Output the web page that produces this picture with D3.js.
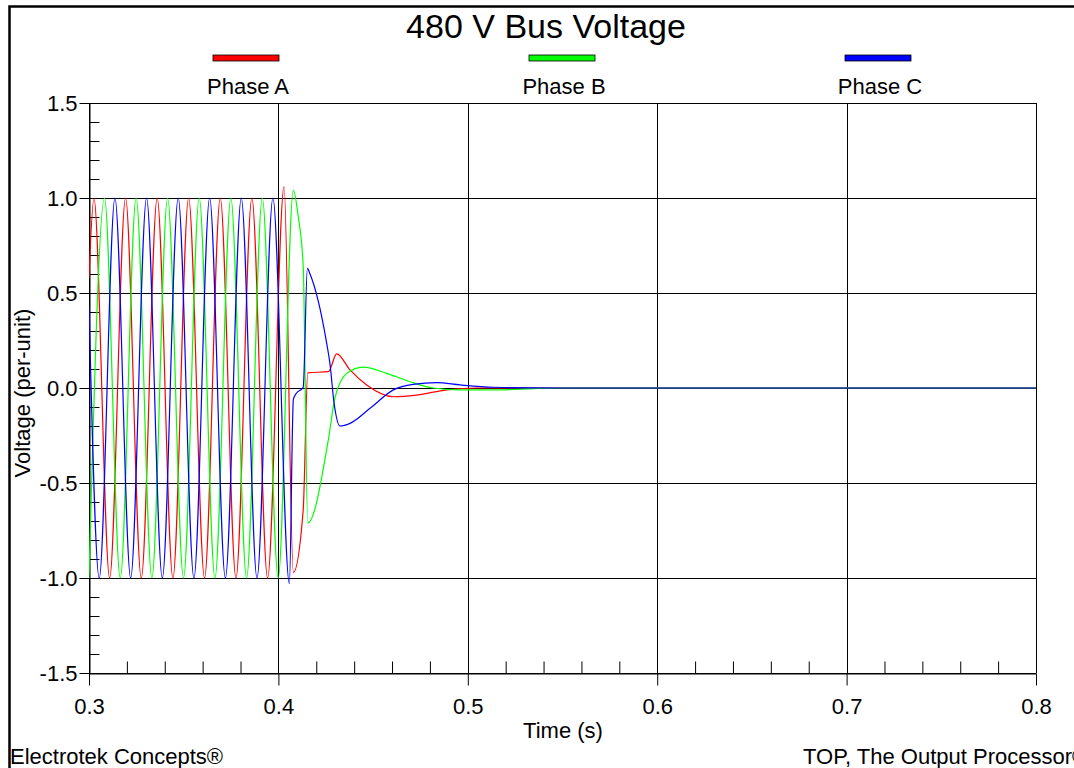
<!DOCTYPE html>
<html>
<head>
<meta charset="utf-8">
<script src="https://cdn.jsdelivr.net/npm/d3@7"></script>
<style>
  body { margin: 0; background: #fff; }
  svg { display: block; font-family: "Liberation Sans", Arial, sans-serif; }
</style>
</head>
<body>
<svg id="chart" width="1074" height="768"></svg>
<script>
const xTicks = [0.3, 0.4, 0.5, 0.6, 0.7, 0.8];
const yTicks = [-1.5, -1.0, -0.5, 0.0, 0.5, 1.0, 1.5];
const seriesNames = ["Phase A", "Phase B", "Phase C"];
const seriesColors = ["#ff0000", "#00ff00", "#0000ff"];

// [time (s), voltage (pu)]: peaks/troughs, then the transient
const phaseA = [
  [0.3000, 0.58], [0.3026, 1.0], [0.3109, -1.0], [0.3193, 1.0], [0.3276, -1.0],
  [0.3360, 1.0], [0.3443, -1.0], [0.3526, 1.0], [0.3610, -1.0], [0.3693, 1.0],
  [0.3776, -1.0], [0.3860, 1.0], [0.3943, -1.0], [0.4030, 1.06], [0.4079, -0.97],
  [0.4131, -0.64], [0.4155, 0.08], [0.4264, 0.086], [0.4308, 0.18], [0.4378, 0.095],
  [0.4466, 0.016], [0.4607, -0.046], [0.4730, -0.037], [0.4889, -0.01], [0.5047, 0.0],
  [0.5500, 0.0], [0.8000, 0.0]
];
const phaseB = [
  [0.3000, -1.0], [0.3082, 1.0], [0.3165, -1.0], [0.3249, 1.0], [0.3332, -1.0],
  [0.3415, 1.0], [0.3499, -1.0], [0.3582, 1.0], [0.3665, -1.0], [0.3749, 1.0],
  [0.3832, -1.0], [0.3915, 1.0], [0.3999, -1.0], [0.4079, 1.04], [0.4105, 0.90],
  [0.4131, 0.64], [0.4155, -0.71], [0.4264, -0.27], [0.4299, -0.05], [0.4361, 0.077],
  [0.4448, 0.11], [0.4572, 0.077], [0.4695, 0.033], [0.4818, 0.0], [0.4959, -0.01],
  [0.5133, -0.01], [0.5500, 0.0], [0.8000, 0.0]
];
const phaseC = [
  [0.3000, 0.43], [0.3054, -1.0], [0.3137, 1.0], [0.3220, -1.0], [0.3304, 1.0],
  [0.3387, -1.0], [0.3471, 1.0], [0.3554, -1.0], [0.3637, 1.0], [0.3720, -1.0],
  [0.3804, 1.0], [0.3887, -1.0], [0.3971, 1.0], [0.4058, -1.03], [0.4079, -0.06],
  [0.4093, -0.03], [0.4131, 0.004], [0.4153, 0.63], [0.4167, 0.60], [0.4255, 0.235],
  [0.4272, 0.13], [0.4294, -0.08], [0.4325, -0.20], [0.4378, -0.186], [0.4484, -0.107],
  [0.4607, -0.01], [0.4712, 0.019], [0.4836, 0.028], [0.4959, 0.016], [0.5135, 0.004],
  [0.5500, 0.0], [0.8000, 0.0]
];
const allSeries = [phaseA, phaseB, phaseC];

const svg = d3.select("#chart");
const font = 22;
const plotLeft = 89, plotRight = 1036, plotTop = 103, plotBottom = 673;

const x = d3.scaleLinear().domain([0.3, 0.8]).range([plotLeft, plotRight]);
const y = d3.scaleLinear().domain([-1.5, 1.5]).range([plotBottom, plotTop]);
const fmt = v => d3.format(".1f")(v).replace("−", "-");

// outer frame (left + top only, rest is cut off)
svg.append("path")
  .attr("d", `M9.5,768V6.5H1074`)
  .attr("fill", "none").attr("stroke", "#000").attr("stroke-width", 2.5);

// title
svg.append("text").attr("x", 546).attr("y", 38)
  .attr("text-anchor", "middle").attr("font-size", 34).text("480 V Bus Voltage");

// legend
const legendX = [246, 562, 878];
seriesNames.forEach((name, i) => {
  svg.append("rect").attr("x", legendX[i] - 33).attr("y", 55)
    .attr("width", 66).attr("height", 6)
    .attr("fill", seriesColors[i]).attr("stroke", "#000").attr("stroke-width", 0.8);
  svg.append("text").attr("x", legendX[i] + 2).attr("y", 94)
    .attr("text-anchor", "middle").attr("font-size", font).text(name);
});

// grid
const grid = svg.append("g").attr("stroke", "#000").attr("stroke-width", 1);
xTicks.forEach(t => grid.append("line")
  .attr("x1", Math.round(x(t)) + 0.5).attr("x2", Math.round(x(t)) + 0.5)
  .attr("y1", plotTop).attr("y2", plotBottom));
yTicks.forEach(t => grid.append("line")
  .attr("x1", plotLeft).attr("x2", plotRight)
  .attr("y1", Math.round(y(t)) + 0.5).attr("y2", Math.round(y(t)) + 0.5));

// axes
const yMinor = d3.range(-1.5, 1.5001, 0.1).map(v => +v.toFixed(1)).filter(v => !yTicks.includes(v));
const xMinor = d3.range(0.3, 0.8001, 0.02).map(v => +v.toFixed(2)).filter(v => !xTicks.includes(v));

function styleAxis(g) {
  g.selectAll("path, line").attr("stroke", "#000").attr("stroke-width", 1);
  g.selectAll("text").attr("fill", "#000").attr("font-size", font)
    .attr("font-family", '"Liberation Sans", Arial, sans-serif');
}

svg.append("g").attr("transform", `translate(${plotLeft + 0.5},0)`)
  .call(d3.axisLeft(y).tickValues(yTicks).tickSize(10).tickSizeOuter(0)
    .tickPadding(2).tickFormat(fmt))
  .call(styleAxis);
svg.append("g").attr("transform", `translate(${plotLeft + 0.5},0)`)
  .call(d3.axisLeft(y).tickValues(yMinor).tickSize(-10).tickSizeOuter(0).tickFormat(""))
  .call(styleAxis).call(g => g.select(".domain").remove());

svg.append("g").attr("transform", `translate(0,${plotBottom + 0.5})`)
  .call(d3.axisBottom(x).tickValues(xTicks).tickSize(12).tickSizeOuter(0)
    .tickPadding(13).tickFormat(fmt))
  .call(styleAxis);
svg.append("g").attr("transform", `translate(0,${plotBottom + 0.5})`)
  .call(d3.axisBottom(x).tickValues(xMinor).tickSize(-12).tickSizeOuter(0).tickFormat(""))
  .call(styleAxis).call(g => g.select(".domain").remove());

// axis titles
svg.append("text").attr("x", 563).attr("y", 738)
  .attr("text-anchor", "middle").attr("font-size", font).text("Time (s)");
svg.append("text").attr("transform", "translate(30,393) rotate(-90)")
  .attr("text-anchor", "middle").attr("font-size", font).text("Voltage (per-unit)");

// footer
svg.append("text").attr("x", 10).attr("y", 764).attr("font-size", font).text("Electrotek Concepts®");
svg.append("text").attr("x", 803).attr("y", 764).attr("font-size", font).text("TOP, The Output Processor®");

// traces
svg.append("clipPath").attr("id", "plot-clip")
  .append("rect").attr("x", plotLeft).attr("y", plotTop - 2)
  .attr("width", plotRight - plotLeft).attr("height", plotBottom - plotTop + 4);

const line = d3.line().x(d => x(d[0])).y(d => y(d[1])).curve(d3.curveMonotoneX);

svg.append("g").attr("clip-path", "url(#plot-clip)")
  .selectAll("path").data(allSeries).join("path")
  .attr("d", line)
  .attr("fill", "none")
  .attr("stroke", (d, i) => seriesColors[i])
  .attr("stroke-width", 1.2);
</script>
</body>
</html>
